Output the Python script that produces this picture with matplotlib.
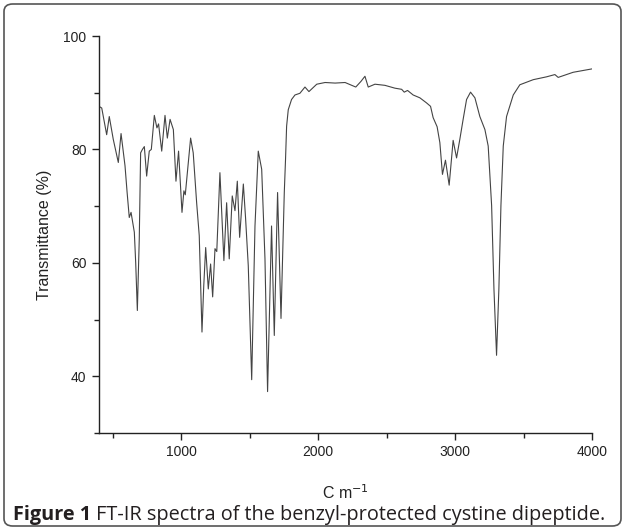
import matplotlib
matplotlib.use("Agg")
import matplotlib.pyplot as plt
from matplotlib.ticker import MultipleLocator
from matplotlib.patches import FancyBboxPatch

# FT-IR spectrum
wavenumber = [400, 420, 456, 475, 504, 541, 561, 590, 605, 621, 634, 658, 668, 680,
              694, 704, 717, 731, 748, 767, 782, 804, 823, 835, 858, 882, 899, 919,
              943, 962, 981, 1006, 1020, 1030, 1069, 1088, 1113, 1132, 1152, 1165,
              1179, 1198, 1215, 1230, 1247, 1260, 1283, 1312, 1332, 1351, 1373, 1393,
              1410, 1427, 1454, 1470, 1490, 1515, 1539, 1563, 1588, 1612, 1631, 1660,
              1680, 1704, 1729, 1753, 1762, 1770, 1782, 1806, 1831, 1867, 1904, 1933,
              1990, 2051, 2124, 2197, 2275, 2313, 2342, 2366, 2415, 2488, 2561, 2610,
              2629, 2653, 2694, 2743, 2792, 2821, 2840, 2869, 2889, 2908, 2930, 2957,
              2986, 3011, 3035, 3059, 3084, 3113, 3145, 3181, 3218, 3242, 3267, 3284,
              3303, 3320, 3335, 3352, 3376, 3425, 3473, 3571, 3668, 3729, 3753, 3862,
              4000]
transmittance = [87.6, 87.3, 82.6, 85.8, 81.8, 77.7, 82.8, 77.1, 72.5, 68.0, 68.9, 65.4,
                 60.0, 51.6, 64.2, 79.4, 80.0, 80.5, 75.3, 79.7, 80.0, 86.0, 83.8, 84.5,
                 79.7, 86.0, 82.0, 85.3, 83.5, 74.4, 79.7, 68.9, 72.7, 72.0, 82.0, 79.4,
                 70.6, 64.8, 47.8, 56.0, 62.7, 55.4, 59.8, 54.0, 62.5, 62.0, 75.9, 60.4,
                 70.6, 60.7, 71.8, 69.2, 74.4, 64.5, 73.9, 68.0, 59.5, 39.4, 66.5, 79.7,
                 76.5, 60.7, 37.3, 66.5, 47.2, 72.4, 50.2, 72.4, 78.2, 84.1, 87.0, 88.8,
                 89.6, 89.9, 91.0, 90.2, 91.5, 91.8, 91.7, 91.8, 91.0, 92.0, 92.9, 91.0,
                 91.5, 91.3, 90.8, 90.6, 90.1, 90.4, 89.6, 89.1, 88.2, 87.6, 85.6, 84.0,
                 81.2, 75.6, 78.1, 73.7, 81.6, 78.5, 81.8, 85.3, 88.8, 90.1, 89.1, 85.8,
                 83.5, 80.6, 70.1, 55.4, 43.7, 55.4, 70.1, 80.6, 85.8, 89.6, 91.4, 92.3,
                 92.8, 93.2, 92.7, 93.6, 94.2]

plt.rcParams['font.family'] = ['Liberation Sans', 'DejaVu Sans']

fig = plt.figure(figsize=(6.25, 5.3), dpi=100)
ax = fig.add_axes([99 / 625, 97 / 530, 493 / 625, 397 / 530])

ax.plot(wavenumber, transmittance, color='#444444', lw=0.8)
ax.set_xlim(400, 4000)
ax.set_ylim(30, 100)

for side in ['top', 'right']:
    ax.spines[side].set_visible(False)
for side in ['left', 'bottom']:
    ax.spines[side].set_color('#222222')
    ax.spines[side].set_linewidth(1.0)

ax.xaxis.set_major_locator(MultipleLocator(1000))
ax.xaxis.set_minor_locator(MultipleLocator(500))
ax.yaxis.set_minor_locator(MultipleLocator(10))
ax.set_yticks([40, 60, 80, 100])
ax.tick_params(which='major', direction='out', length=5, width=1, color='#222222',
               labelsize=10, labelcolor='#222222', pad=4)
ax.tick_params(which='minor', direction='out', length=3.5, width=1, color='#222222')

ax.set_xlabel('C m$^{-1}$', fontsize=11.5, color='#222222', labelpad=17)
ax.set_ylabel('Transmittance (%)', fontsize=11.5, color='#222222', labelpad=8)

# rounded frame around the figure
frame = FancyBboxPatch((4 / 625, 4 / 530), 617 / 625, 522 / 530,
                       boxstyle='round,pad=0,rounding_size=0.014',
                       transform=fig.transFigure, fill=False,
                       edgecolor='#555555', lw=1.2)
fig.patches.append(frame)

# caption: bold label then regular text
cap_font = ['Open Sans', 'DejaVu Sans']
t1 = fig.text(13 / 625, 10 / 530, 'Figure 1', fontsize=14.3, fontweight='bold',
              family=cap_font, color='#231f20', va='baseline')
fig.canvas.draw()
bb = t1.get_window_extent()
fig.text(bb.x1 / 625 + 5 / 625, 10 / 530,
         'FT-IR spectra of the benzyl-protected cystine dipeptide.',
         fontsize=14.3, family=cap_font, color='#231f20', va='baseline')

fig.savefig('out.png', dpi=100)
